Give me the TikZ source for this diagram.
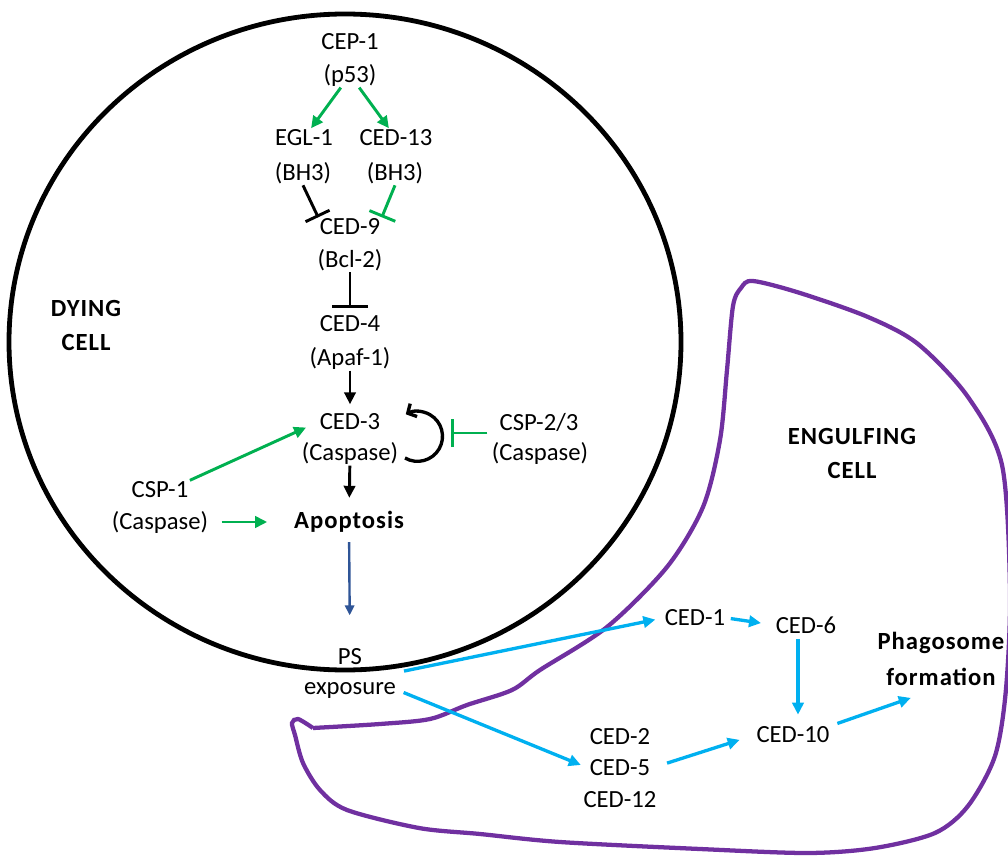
\documentclass[tikz,border=0pt]{standalone}
\usepackage{fontspec}
\setmainfont{Carlito}
\usetikzlibrary{arrows.meta}
\definecolor{actgreen}{HTML}{00B050}
\definecolor{engcyan}{HTML}{00B0F0}
\definecolor{psblue}{HTML}{2F5597}
\definecolor{cellpurple}{HTML}{7030A0}
\tikzset{
  lbl/.style={inner sep=1pt, font=\fontsize{18.5}{25.5}\selectfont},
  blbl/.style={inner sep=1pt, align=center, font=\fontsize{18.5}{25.5}\selectfont\bfseries\addfontfeatures{LetterSpace=4}},
  act/.style={line width=2.2pt, -{Triangle[length=9pt,width=8.5pt]}},
  garr/.style={act, actgreen},
  carr/.style={line width=2.5pt, engcyan, -{Triangle[length=9pt,width=8.5pt]}},
  inh/.style={line width=2.2pt, -{Bar[width=#1]}},
  ginh/.style={inh=#1, actgreen}
}
\begin{document}
\begin{tikzpicture}[x=0.75pt, y=-0.75pt]
\useasboundingbox (0,0) rectangle (1008,856);
% the two cells
\draw[line width=3.6pt] (345,342) ellipse [x radius=336, y radius=328];
\draw[cellpurple, line width=3.2pt] plot[smooth, tension=0.5] coordinates {(313,728) (380,724) (430,719) (467,705) (512,690) (540,670) (607,627) (667,567) (703,507) (720,440) (727,370) (733,306) (741,288) (753,281) (800,293) (868,317) (918,344) (968,397) (1002,465) (1010,590) (1006,689) (995,756) (968,806) (935,833) (875,848) (808,853) (700,849) (560,842) (480,834) (419,828) (347,810) (320,790) (303,763) (295,735) (292,723) (298,719) (313,728)};
\node[blbl] (dying) at (86,325) {DYING\\CELL};
\node[blbl] (engulf) at (852,453) {ENGULFING\\CELL};

% dying cell
\node[lbl] (cep) at (350,42) {CEP-1};
\node[lbl] (p53) at (350,75) {(p53)};
\node[lbl] (egl) at (304,138) {EGL-1};
\node[lbl] (bhA) at (303,173) {(BH3)};
\node[lbl] (ced13) at (396,138) {CED-13};
\node[lbl] (bhB) at (395,173) {(BH3)};
\node[lbl] (ced9) at (350,227) {CED-9};
\node[lbl] (bcl) at (350,260) {(Bcl-2)};
\node[lbl] (ced4) at (350,324) {CED-4};
\node[lbl] (apaf) at (350,358) {(Apaf-1)};
\node[lbl] (ced3) at (350,422) {CED-3};
\node[lbl] (casA) at (350,453) {(Caspase)};
\node[lbl] (csp23) at (539,422) {CSP-2/3};
\node[lbl] (casB) at (540,453) {(Caspase)};
\node[lbl] (csp1) at (160,490) {CSP-1};
\node[lbl] (casC) at (160,522) {(Caspase)};
\node[blbl] (apop) at (349,522) {Apoptosis};
\node[lbl] (ps) at (350,657) {PS};
\node[lbl] (expo) at (350,690) {exposure};
\coordinate (selfloop) at (451,433);

\draw[garr] (p53) -- (egl);
\draw[garr] (p53) -- (ced13);
\draw[inh=20pt] (bhA.south) -- (ced9.north west);
\draw[ginh=21pt] (bhB.south) -- (ced9.north east);
\draw[inh=27pt, shorten >=5pt] (bcl) -- (ced4);
\draw[act, shorten >=6pt] (apaf) -- (ced3);
\draw[act, shorten >=9pt] (casA) -- (apop);
\draw[garr, shorten >=10pt] (csp1.north east) -- (ced3.west);
\draw[garr, shorten <=9pt, shorten >=19pt] (casC) -- (apop);
\draw[ginh=21pt, shorten <=8pt] (csp23.west |- selfloop) -- (selfloop);
\draw[line width=2.5pt, -{Straight Barb[length=5pt,width=11pt]}] (405,458) arc[start angle=120, end angle=-118, radius=25];
\draw[line width=1.8pt, psblue, -{Triangle[length=7.5pt,width=7pt]}, shorten <=6pt, shorten >=24pt] (apop) -- (ps);

% engulfing cell
\node[lbl] (ced1) at (695,618) {CED-1};
\node[lbl] (ced6) at (806,625) {CED-6};
\node[lbl] (ced10) at (793,735) {CED-10};
\foreach \n/\y in {2/737,5/768,12/800}
  \node[lbl] (ced\n) at (620,\y) {CED-\n};
\node[blbl] (phago) at (941,643) {Phagosome};
\node[blbl] (form) at (941,677) {formation};

\draw[carr, shorten <=5pt, shorten >=6pt] ([yshift=6pt]expo.north east) -- (ced1.west);
\draw[carr, shorten <=5pt, shorten >=6pt] (expo.east) -- (ced5.west);
\draw[carr, shorten <=3pt, shorten >=10pt] (ced1.east) -- (ced6.west);
\draw[carr, shorten <=3pt, shorten >=8pt] ([xshift=-6pt]ced6.south) -- ([xshift=-6pt]ced6.south |- ced10.north);
\draw[carr, shorten <=12pt, shorten >=12pt] (ced5.east) -- (ced10.west);
\draw[carr, shorten <=5pt, shorten >=24pt] ([yshift=7pt]ced10.east) -- (form.south);
\end{tikzpicture}
\end{document}
